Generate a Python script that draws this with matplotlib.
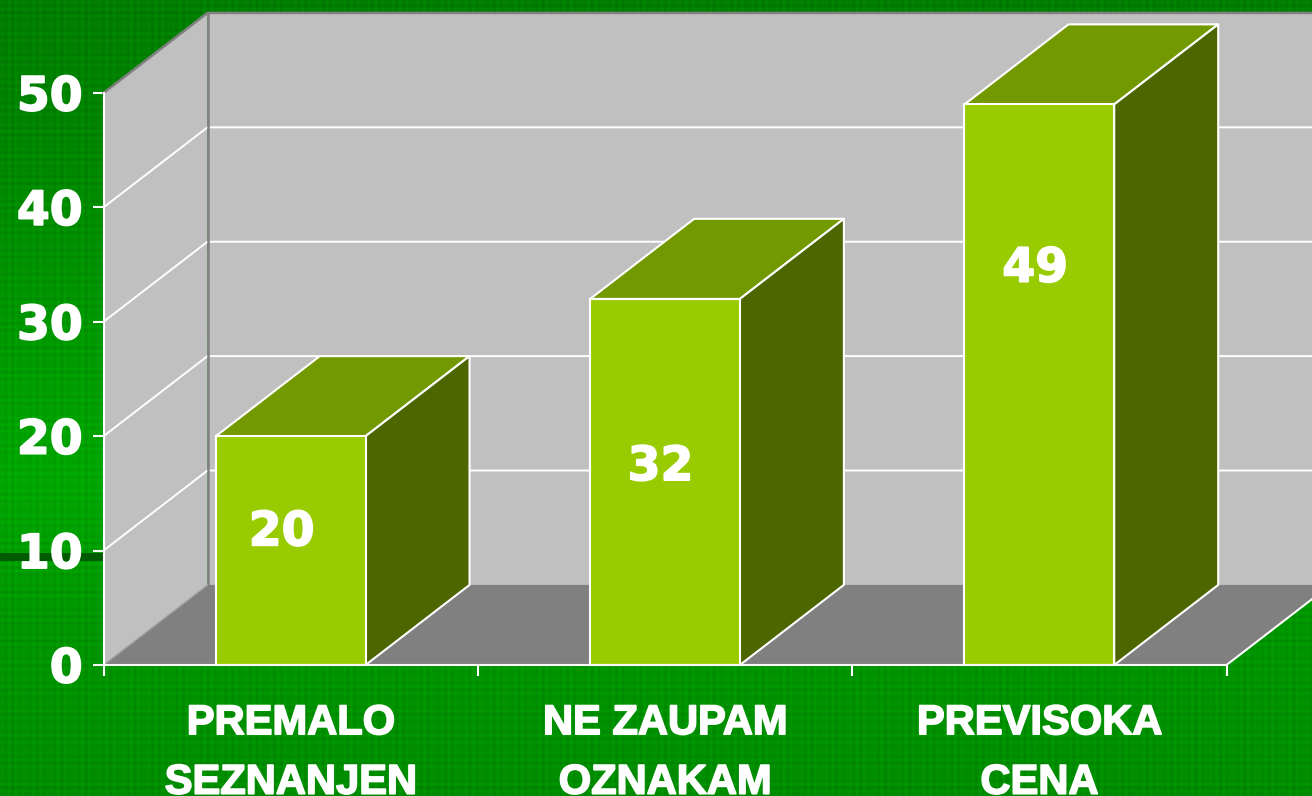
"""Bar chart drawn with a fake 3D box look on a green plaid slide background."""
import numpy as np
import matplotlib
matplotlib.use('Agg')
import matplotlib.pyplot as plt
import matplotlib.patheffects as pe
from matplotlib.patches import Polygon

categories = ['PREMALO\nSEZNANJEN', 'NE ZAUPAM\nOZNAKAM', 'PREVISOKA\nCENA']
values = [20, 32, 49]
y_ticks = [0, 10, 20, 30, 40, 50]

# where the numbers sit inside the bars (value units, offset from bar centre)
label_y = [11.55, 17.25, 34.6]
label_dx = [-0.024, -0.012, -0.011]

WIDTH, HEIGHT = 1312, 796
BAR_WIDTH = 0.4
DEPTH_X = 104 / 374.33
DEPTH_Y = 7.0

WALL = '#c0c0c0'
FLOOR = '#808080'
FRONT = '#99cc00'
TOP = '#739900'
SIDE = '#4d6600'

# the reference lettering is heavier than the bold fonts at hand
HEAVY = [pe.withStroke(linewidth=1.2, foreground='white')]


def background():
    # green plaid, darker at the top and brightest around the middle left
    yy, xx = np.mgrid[0:HEIGHT, 0:WIDTH]
    base = np.interp(yy, [0, 130, 480, 620, 796], [126, 132, 166, 150, 140])
    plaid = (7 * np.sin(xx * 0.9) * np.sin(xx * 0.13)
             + 7 * np.sin(yy * 0.9) * np.sin(yy * 0.13)
             + 4 * np.sin((xx + yy) * 2.1))
    img = np.zeros((HEIGHT, WIDTH, 3), dtype=np.uint8)
    img[..., 1] = np.clip(base + plaid, 0, 255)
    # dark band that runs in from the left edge
    img[553:561, :104, 1] = 90
    return img


def main():
    fig = plt.figure(figsize=(WIDTH / 100, HEIGHT / 100), dpi=100)
    fig.figimage(background(), zorder=-1)

    ax = fig.add_axes([103.5 / WIDTH, 1 - 665 / HEIGHT, 1123 / WIDTH, 572 / HEIGHT])
    ax.patch.set_visible(False)
    ax.set_xlim(0, 3)
    ax.set_ylim(0, 50)

    # back wall, side wall and floor
    top = y_ticks[-1]
    far = 3 + 2 * DEPTH_X
    ax.add_patch(Polygon([(DEPTH_X, DEPTH_Y), (far, DEPTH_Y), (far, top + DEPTH_Y),
                          (DEPTH_X, top + DEPTH_Y)], fc=WALL, ec='none',
                         clip_on=False, zorder=1))
    ax.add_patch(Polygon([(0, 0), (DEPTH_X, DEPTH_Y), (DEPTH_X, top + DEPTH_Y), (0, top)],
                         fc=WALL, ec='none', clip_on=False, zorder=1))
    ax.add_patch(Polygon([(0, 0), (3, 0), (3 + DEPTH_X, DEPTH_Y), (DEPTH_X, DEPTH_Y)],
                         fc=FLOOR, ec='none', clip_on=False, zorder=1))

    # gridlines run along the side wall, then along the back wall
    for v in y_ticks[1:-1]:
        ax.plot([0, DEPTH_X, far], [v, v + DEPTH_Y, v + DEPTH_Y], color='white',
                lw=1.4, clip_on=False, zorder=2, solid_capstyle='butt')

    # wall edges
    ax.plot([0, DEPTH_X, far], [top, top + DEPTH_Y, top + DEPTH_Y], color=FLOOR, lw=1.8,
            clip_on=False, zorder=2)
    ax.plot([DEPTH_X, DEPTH_X], [DEPTH_Y, top + DEPTH_Y], color=FLOOR, lw=1.8,
            clip_on=False, zorder=2)
    ax.plot([0, DEPTH_X], [0, DEPTH_Y], color='#a6a6a6', lw=1, clip_on=False, zorder=2)
    ax.plot([3, 3 + DEPTH_X], [0, DEPTH_Y], color='white', lw=1.5, clip_on=False, zorder=2)

    # boxes
    for i, v in enumerate(values):
        x0 = i + 0.5 - BAR_WIDTH / 2
        x1 = i + 0.5 + BAR_WIDTH / 2
        edge = dict(ec='white', lw=1.5, clip_on=False, zorder=3, joinstyle='round')
        ax.add_patch(Polygon([(x0, v), (x1, v), (x1 + DEPTH_X, v + DEPTH_Y),
                              (x0 + DEPTH_X, v + DEPTH_Y)], fc=TOP, **edge))
        ax.add_patch(Polygon([(x1, 0), (x1 + DEPTH_X, DEPTH_Y),
                              (x1 + DEPTH_X, v + DEPTH_Y), (x1, v)], fc=SIDE, **edge))
        ax.bar(i + 0.5, v, BAR_WIDTH, color=FRONT, edgecolor='white', linewidth=1.5,
               zorder=4, clip_on=False)
        ax.text(i + 0.5 + label_dx[i], label_y[i], str(v), color='white', fontsize=34,
                fontweight='bold', family='DejaVu Sans', ha='center', va='center',
                zorder=5, path_effects=HEAVY)

    # axes
    for side in ('top', 'right'):
        ax.spines[side].set_visible(False)
    for side in ('left', 'bottom'):
        ax.spines[side].set_color('white')
        ax.spines[side].set_linewidth(1.5)
        ax.spines[side].set_zorder(6)
    ax.set_yticks(y_ticks)
    ax.set_yticklabels([str(t) for t in y_ticks], color='white', fontsize=34,
                       fontweight='bold', family='DejaVu Sans', path_effects=HEAVY)
    ax.set_xticks([0, 1, 2, 3])
    ax.set_xticklabels([])
    ax.set_xticks([0.5, 1.5, 2.5], minor=True)
    ax.set_xticklabels(categories, minor=True, color='white', fontsize=30,
                       fontweight='bold', family='Liberation Sans', linespacing=1.63,
                       path_effects=HEAVY)
    ax.tick_params(axis='y', length=8, width=1.5, color='white', pad=7)
    ax.tick_params(axis='x', which='major', length=8, width=1.5, color='white')
    ax.tick_params(axis='x', which='minor', length=0, pad=27.5)

    fig.savefig('out.png', dpi=100)


if __name__ == '__main__':
    main()
